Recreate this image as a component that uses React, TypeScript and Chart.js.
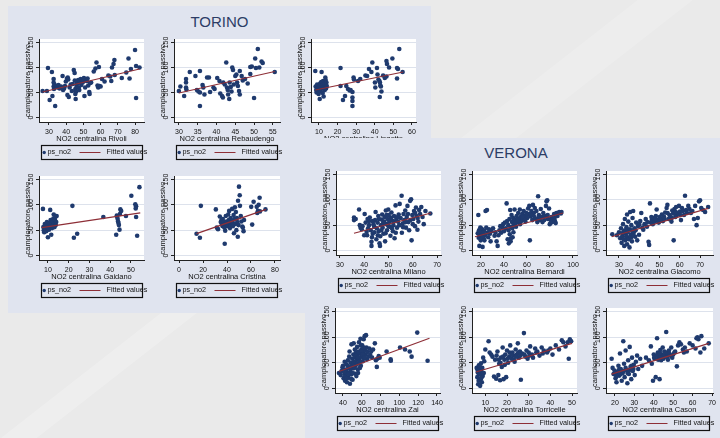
import React, { useEffect, useRef } from 'react';
import { Chart, registerables } from 'chart.js';

Chart.register(...registerables);

// ---------------- DATA ----------------
const cityTitles = ['TORINO', 'VERONA'];
const stations = ['Rivoli', 'Rebaudengo', 'Lingotto', 'Gaidano', 'Cristina', 'Milano', 'Bernardi', 'Giacomo', 'Zai', 'Torricelle', 'Cason'];
const yAxisTitle = 'campionatore passivo';
const xAxisPrefix = 'NO2 centralina ';
const seriesLabels = ['ps_no2', 'Fitted values'];
const yTickStep = 50;
const yRange = [-9, 157];
const xTickSteps = [10, 5, 10, 10, 20, 10, 20, 10, 20, 10, 10];
const xRanges = [
  [24.2, 85.2], [28.7, 56.9], [5.7, 62.2], [5.7, 56.3], [-4.2, 84.2],
  [28.4, 71.6], [12.2, 103.5], [23.6, 76.4], [31.5, 143.2], [3.85, 52.3], [15.4, 70.5],
];

const rivoliPoints = [
  [26.3, 53], [28.8, 53], [29.4, 99], [30.4, 35], [31.7, 91], [32, 43], [32.7, 77], [32.7, 70], [32.7, 62], [32.9, 57], [33.6, 23], [33.2, 66], [34.5, 63], [35, 60], [35.5, 65], [36.2, 58], [37, 62], [37.9, 83], [38.2, 55], [38.8, 58], [39.3, 63], [39.8, 72], [40.5, 78], [40.9, 80], [41.2, 76], [40.7, 45], [41.5, 41], [42, 60], [42.6, 66], [43.3, 53], [43.8, 67], [44.4, 95], [44.9, 89], [45, 74], [45.3, 57], [45.3, 47], [45.5, 37], [45.8, 52], [46, 63], [46.2, 70], [46.5, 72], [46.8, 68], [47, 75], [47.3, 60], [47.6, 55], [48, 71], [48.4, 77], [48.8, 65], [49.2, 74], [49.5, 70], [49.9, 72], [50.3, 79], [50.6, 43], [51, 60], [51.3, 74], [52, 73], [52.4, 78], [52.8, 64], [53.4, 51], [53.6, 47], [53.9, 69], [54.5, 70], [56, 92], [57, 98], [57.6, 110], [58.2, 64], [58.6, 60], [59, 101], [59.4, 63], [60, 62], [60.8, 77], [62.3, 72], [64.5, 84], [65.6, 82], [66.2, 73], [66.6, 100], [67.5, 107], [68, 115], [68.2, 85], [72.3, 79], [74.9, 90], [76.2, 118], [76.8, 78], [77.6, 97], [80, 135], [80.6, 103], [80.6, 39], [82.6, 100],
];
const rivoliFit = [[26.3, 51], [82.6, 97]];

const rebaudengoPoints = [
  [30, 53], [30.4, 62], [31.4, 43], [31.9, 77], [31.9, 70], [31.9, 60], [32, 56], [32.9, 91], [34.4, 83], [34.8, 55], [35.2, 52], [35.6, 50], [35.6, 93], [35.6, 23], [36.3, 65], [36.5, 60], [36.8, 46], [37.5, 80], [38, 80], [38.3, 51], [39.2, 60], [39.5, 57], [40.2, 79], [40.8, 73], [41, 48], [41.5, 43], [41.7, 40], [41.8, 70], [42.2, 66], [42.6, 110], [42.8, 60], [43, 55], [43.1, 46], [43.4, 37], [43.5, 70], [43.8, 61], [44, 52], [44.2, 100], [44.4, 95], [44.6, 66], [45, 83], [45.3, 86], [45.5, 70], [45.7, 63], [46, 53], [46.2, 46], [46.2, 93], [46.7, 83], [47, 74], [47.6, 77], [48.3, 68], [49, 101], [49.4, 102], [49, 87], [50, 39], [50.3, 118], [50.5, 99], [51, 137], [51.4, 100], [52, 112], [52.3, 109], [55.5, 91],
];
const rebaudengoFit = [[30, 49], [55.5, 92]];

const lingottoPoints = [
  [8, 93], [8.2, 62], [8.5, 55], [8.7, 50], [9, 66], [9.3, 58], [9.5, 53], [9.8, 47], [10, 60], [10.2, 63], [10.4, 37], [10.6, 68], [10.8, 56], [11, 52], [11.2, 71], [11.4, 91], [11.5, 59], [11.8, 64], [12, 49], [12.2, 73], [12.5, 42], [12.6, 61], [12.9, 67], [13.1, 55], [13.4, 80], [13.6, 75], [13.8, 58], [14, 70], [14.2, 63],
  [21.6, 99], [21.6, 63], [22.9, 35], [24, 43], [24.7, 63], [25.6, 57], [26.5, 54], [27, 55], [28, 51], [28, 40], [28, 33], [28, 23], [28.6, 80], [28.8, 76], [31, 73], [32.2, 77], [35, 84], [35.9, 83], [36.9, 97], [38.2, 91], [38.7, 110], [40.1, 70], [40.3, 60], [41.2, 99], [41.5, 86], [42, 76], [42.5, 73], [42.8, 70], [43, 64], [43.3, 62], [42.7, 41], [43.6, 52], [44.5, 84], [45.4, 79], [46.3, 82], [46.3, 113], [46.6, 107], [47.7, 100], [49.5, 118], [52, 99], [52.5, 97], [52, 78], [52, 39], [53.2, 137], [55, 91],
];
const lingottoFit = [[8, 55], [55.3, 91]];

const gaidanoPoints = [
  [7.6, 92], [7.8, 56], [8, 50], [8.2, 46], [8.5, 62], [8.8, 53], [9, 58], [9.2, 48], [9.5, 66], [9.8, 55], [10, 36], [10.2, 60], [10.5, 51], [10.7, 64], [11, 57], [11.1, 90], [11.3, 70], [11.6, 41], [11.8, 62], [12, 54], [12.2, 68], [12.4, 59], [12.6, 73], [12.8, 81], [13, 63], [13.2, 56], [13.4, 70], [13.6, 76], [13.8, 60], [14, 66], [14.2, 78],
  [21.8, 98], [22.5, 35], [24.1, 43], [36.7, 76], [42.9, 41], [43.2, 79], [43.4, 76], [43.6, 72], [43.8, 67], [44, 64], [44.2, 60], [44.5, 51], [44.7, 82], [44.9, 91], [45.3, 88], [47.6, 78], [50.2, 118], [52.1, 101], [52.5, 97], [52.3, 93], [52.5, 76], [53, 39], [54.1, 135],
];
const gaidanoFit = [[7, 55], [54.5, 84]];

const cristinaPoints = [
  [14.6, 43], [17.4, 35], [18.2, 98], [30.7, 91], [31.5, 55], [32.5, 52], [34, 77], [34.8, 66], [35.4, 70], [35.6, 62], [36.2, 58], [36.5, 72], [37, 66], [37.5, 60], [37.8, 55], [38.1, 23], [38.5, 49], [39, 78], [39.5, 67], [40, 62], [40.3, 58], [41, 81], [41.5, 70], [41.8, 88], [42, 64], [42.5, 54], [43, 74], [43.5, 60], [44, 69], [44.3, 92], [44.8, 65], [45, 58], [45.5, 80], [45.8, 44], [46.2, 72], [46.6, 95], [47, 62], [47.4, 86], [47.8, 50], [48.2, 74], [48.6, 66], [49, 37], [49.2, 108], [49.6, 60], [50, 136], [50.6, 119], [50.8, 98], [51.5, 78], [52, 67], [52.8, 57], [53.2, 55], [53.8, 48], [54.2, 70], [60.2, 96], [61, 61], [62.2, 106], [64.8, 96], [65.2, 84], [65.8, 88], [66.4, 100], [67.2, 114], [67.5, 87], [72.1, 91],
];
const cristinaFit = [[14.6, 43], [72.6, 91]];

const milanoPoints = [
  [35.8, 60], [35.8, 65], [36.5, 62], [37.9, 81], [38.2, 50], [38.5, 45], [39, 42], [39.3, 48], [40.2, 72], [40.6, 55], [41, 37], [41.2, 30], [41.6, 44], [42, 50], [42, 58], [42.3, 65], [42.7, 40], [43, 9], [43, 17], [43.2, 26], [43.5, 33], [43.8, 52], [44.1, 47], [44.5, 60], [44.7, 76], [45, 22], [45.2, 44], [45.5, 55], [45.8, 68], [46, 38], [46.3, 14], [46.5, 9], [46.6, 28], [46.9, 50], [47.2, 61], [47.4, 71], [47.6, 45], [47.9, 33], [48.2, 57], [48.4, 66], [48.6, 18], [48.9, 79], [49.1, 52], [49.4, 40], [49.6, 62], [49.9, 81], [50.1, 70], [50.3, 56], [50.5, 47], [50.8, 29], [51, 65], [51.2, 75], [51.5, 59], [51.8, 38], [52, 50], [52.3, 68], [52.5, 24], [52.9, 89], [53.2, 62], [53.5, 45], [53.9, 57], [54.2, 71], [54.6, 92], [55, 64], [55.4, 108], [55.5, 35], [55.8, 53], [56.2, 72], [56.5, 60], [56.9, 79], [57.2, 45], [57.5, 66], [57.8, 88], [58.2, 56], [58.5, 40], [58.9, 98], [59.3, 101], [59.5, 20], [59.8, 70], [60.2, 62], [60.5, 78], [60.9, 48], [61.3, 85], [61.5, 68], [61.9, 41], [62.3, 57], [62.6, 80], [63, 72], [63.5, 86], [64, 66], [64.5, 52], [65.2, 78], [67.2, 73],
  [40, 30], [41.4, 62], [43.4, 58], [44.2, 36], [45.6, 30], [46.1, 62], [47, 40], [47.8, 54], [48.8, 34], [49.2, 70], [50, 48], [50.7, 60], [51.4, 44], [52.2, 57], [53, 35], [53.8, 66], [54.4, 50], [56, 46], [57, 56], [58, 72], [59, 60], [60, 52], [61, 74], [62, 64],
];
const milanoFit = [[35.8, 34], [67.5, 74]];

const bernardiPoints = [
  [17.2, 34], [17.7, 70], [18, 25], [18.3, 40], [18.6, 9], [19, 30], [19.4, 45], [19.8, 20], [20.2, 36], [20.6, 28], [21, 42], [21.4, 7], [21.8, 33], [22.3, 24], [22.8, 39], [23.5, 30], [24, 78], [24.6, 45], [25.2, 80], [25.6, 35], [26.3, 26], [27, 42], [27.8, 33], [28.4, 18], [29, 38], [30.5, 44], [31.8, 29], [32.5, 36], [33.6, 18], [34.5, 9], [35.2, 30], [36, 40], [36.8, 48], [37.5, 35], [38.5, 46], [39.3, 52], [40, 38], [40.8, 55], [41.5, 44], [42.3, 93], [42.8, 58], [43.2, 22], [43.7, 50], [44.2, 14], [44.8, 62], [45.4, 80], [45.8, 18], [46.2, 46], [46.6, 70], [47, 56], [47.5, 26], [48, 64], [48.6, 52], [49.2, 81], [49.8, 60], [50.5, 47], [51, 68], [51.8, 56], [52.4, 74], [53, 62], [53.8, 81], [54.4, 66], [55, 58], [55.8, 72], [56.5, 62], [57.2, 78], [58, 68], [58.6, 57], [59.4, 74], [60.2, 64], [61, 83], [61.6, 72], [62, 88], [62.5, 20], [63, 67], [63.8, 78], [64.6, 60], [65.2, 90], [66, 74], [66.8, 84], [67.5, 62], [68.2, 78], [69, 56], [69.7, 107], [70.4, 70], [71.2, 60], [72, 82], [72.8, 66], [73.5, 56], [74.2, 74], [75, 60], [75.8, 68], [76.5, 88], [77, 97], [77.6, 99], [78.2, 62], [79.2, 83], [79.8, 52], [80.5, 60], [81.2, 66], [82, 56], [82.8, 62], [83.6, 72], [84.3, 58], [85, 54], [85.6, 74], [86.5, 68], [88, 76], [89.5, 73], [90, 76],
  [18.8, 38], [20, 44], [21.2, 26], [22, 35], [23, 20], [44, 40], [45, 32], [46, 24], [47.2, 44], [48.2, 36], [49, 58], [50, 54], [52, 60], [54, 52], [56, 66], [58.2, 60], [60, 72], [64, 70], [66.5, 66], [70, 64], [74, 66], [78, 70], [84, 64],
];
const bernardiFit = [[14.8, 27], [91.4, 74]];

const giacomoPoints = [
  [26.7, 32], [29, 30], [30, 36], [30.6, 24], [31, 44], [31.3, 15], [31.6, 28], [32, 52], [32.3, 38], [32.6, 9], [32.9, 62], [33.1, 20], [33.4, 33], [33.7, 46], [34, 71], [34, 12], [34.3, 26], [34.6, 57], [34.9, 40], [35.2, 6], [35.5, 76], [35.8, 31], [36.1, 50], [36.4, 18], [36.7, 64], [37, 78], [37.3, 36], [37.6, 44], [38, 27], [38.5, 55], [39, 20], [39.4, 48], [39.9, 31], [40.5, 58], [41, 74], [41.5, 45], [42, 41], [42.6, 52], [43.2, 62], [43.8, 47], [44.6, 17], [44.9, 11], [45.3, 93], [45.7, 55], [46.2, 60], [46.7, 52], [47.2, 64], [47.7, 57], [48.2, 68], [48.6, 81], [49.1, 60], [49.6, 55], [50.1, 66], [50.7, 62], [51.2, 71], [51.7, 58], [52.2, 67], [52.8, 75], [53.5, 84], [53.9, 90], [54.4, 62], [54.9, 70], [55.4, 66], [55.9, 57], [56.3, 79], [56.7, 73], [57, 20], [57.4, 82], [57.8, 66], [58.2, 86], [58.6, 70], [59.1, 74], [59.6, 88], [60.1, 77], [60.6, 60], [61.1, 84], [61.6, 78], [62.1, 70], [62.6, 108], [63.1, 80], [63.6, 74], [64.2, 88], [64.8, 82], [65.5, 74], [66.2, 78], [67, 62], [67.6, 88], [68.3, 50], [68.9, 64], [69.5, 97], [70, 99], [70.6, 84], [71.5, 80], [72.5, 76], [74, 86],
  [31.8, 34], [32.4, 22], [33, 40], [33.6, 28], [34.2, 36], [34.8, 22], [35.4, 42], [36, 26], [36.6, 38], [37.2, 30], [38.2, 40], [40, 52], [44, 56], [46, 66], [48, 62], [50.4, 58], [52.5, 62], [54, 74], [56, 64], [58, 76], [60.3, 70],
];
const giacomoFit = [[26.4, 27], [74, 83]];

const zaiPoints = [
  [35.7, 30], [37.5, 26], [38.5, 34], [39.4, 41], [40, 44], [40.6, 20], [41, 36], [41.5, 28], [41.8, 52], [42.2, 15], [42.8, 24], [43.3, 37], [43.7, 47], [44.2, 12], [44.7, 31], [45.2, 55], [45.7, 21], [46.1, 40], [46.6, 62], [47, 72], [47.4, 9], [47.8, 33], [48.2, 50], [48.6, 27], [49, 86], [49.4, 45], [49.8, 58], [50.2, 17], [50.6, 39], [51, 66], [51.4, 88], [51.8, 52], [52.2, 29], [52.6, 76], [53, 61], [53.4, 44], [53.8, 70], [54.2, 24], [54.6, 56], [55, 81], [55.4, 64], [55.8, 37], [56.2, 72], [56.6, 49], [57, 90], [57.5, 58], [58, 68], [58.6, 97], [59, 44], [59.5, 76], [60, 62], [60.5, 84], [61, 53], [61.5, 70], [62, 96], [62.5, 59], [63, 102], [63.5, 74], [64, 66], [64.5, 104], [65, 80], [65.6, 57], [66.2, 71], [67, 62], [68, 78], [69, 65], [70, 72], [71, 60], [72, 76], [73.9, 88], [75, 55], [76, 42], [76.5, 58], [78, 63], [79, 60], [86.4, 72], [90.7, 57], [90.9, 54], [100.7, 80], [106, 76], [111, 72], [113, 62], [119, 109], [130, 54],
  [42, 32], [44, 20], [45, 44], [46, 28], [48, 40], [49, 18], [50, 30], [51, 46], [52, 40], [53, 52], [54, 64], [55, 48], [56, 60], [57, 70], [58, 52], [59, 84], [60, 74], [61, 66], [62, 80], [63, 60], [56, 30], [58, 40],
];
const zaiFit = [[35.7, 33], [132, 98]];

const torricellePoints = [
  [6, 40], [6.3, 22], [6.5, 31], [6.7, 8], [6.9, 15], [7, 45], [7.2, 36], [7.4, 27], [7.6, 5], [7.8, 18], [8, 49], [8.2, 33], [8.4, 12], [8.6, 40], [8.8, 24], [9, 60], [9.3, 30], [9.5, 53], [10, 76], [11.5, 92], [12, 70], [12.7, 66], [13.3, 62], [14, 23], [14.5, 56], [15, 19], [15.6, 72], [16, 26], [16.4, 48], [16.8, 16], [17.2, 60], [17.6, 42], [18, 80], [18.4, 18], [18.8, 56], [19.2, 66], [19.6, 22], [20, 74], [20.5, 50], [21, 62], [21.5, 84], [22, 58], [22.5, 70], [23, 64], [23.5, 52], [24, 76], [24.5, 66], [25, 88], [25.5, 60], [26, 72], [26.4, 17], [27, 68], [27.8, 108], [28.5, 62], [29, 74], [29.5, 58], [30, 70], [30.7, 82], [31.5, 66], [32, 60], [33, 78], [34, 72], [35, 64], [36, 80], [37, 74], [38.5, 70], [40, 78], [41, 66], [42.5, 84], [44, 76], [45.3, 94], [46, 90], [47, 82], [48, 90], [48.5, 58], [49, 96], [49.6, 92],
  [6.4, 36], [7.1, 28], [7.5, 42], [8.1, 20], [8.7, 30], [15.2, 64], [16.2, 56], [17, 50], [18.2, 62], [19, 46], [20.2, 58], [21.2, 70], [22.2, 66], [23.2, 56], [24.2, 62], [25.2, 70], [26.2, 64], [28, 66], [30.4, 64], [33.5, 70], [36.5, 68], [39, 74],
];
const torricelleFit = [[5.7, 32], [50, 88]];

const casonPoints = [
  [18.3, 58], [18.8, 40], [19.3, 28], [19.8, 35], [20.3, 20], [20.8, 12], [21.3, 32], [21.8, 44], [22.3, 25], [22.6, 68], [23, 38], [23.5, 15], [24, 30], [24.3, 92], [24.7, 48], [25, 22], [25.5, 74], [26, 36], [26.4, 10], [26.8, 55], [27.2, 28], [27.6, 81], [28, 42], [28.4, 18], [28.8, 60], [29.2, 34], [29.7, 46], [30.2, 26], [30.8, 52], [31.4, 64], [32, 38], [33, 58], [34, 44], [36, 60], [37.5, 55], [38.5, 82], [39, 48], [39.6, 15], [40, 66], [40.5, 58], [41, 22], [41.7, 98], [42.1, 70], [42.6, 62], [43, 18], [43.4, 75], [43.8, 55], [44.2, 66], [44.6, 80], [45, 58], [45.5, 72], [46, 62], [46.4, 110], [46.8, 68], [47.3, 56], [47.8, 74], [48.5, 64], [49, 80], [50, 66], [50.6, 70], [51.9, 43], [52.5, 84], [53.2, 90], [54, 86], [55, 76], [56, 80], [57, 72], [58.5, 88], [60, 84], [61.5, 78], [62, 98], [62.5, 100], [63, 96], [64, 70], [64.5, 102], [66, 78], [68.3, 88],
  [20, 30], [21, 24], [22, 36], [23, 28], [24.5, 34], [25.5, 40], [26.5, 30], [27.5, 36], [28.5, 44], [29.5, 38], [40.2, 60], [41.3, 64], [42.3, 56], [43.2, 68], [44.4, 60], [45.2, 64], [46.2, 70], [47, 62], [48, 68], [49.5, 60], [51, 72], [55.5, 70],
];
const casonFit = [[18.3, 28], [68.3, 88]];

const pointSets = [rivoliPoints, rebaudengoPoints, lingottoPoints, gaidanoPoints, cristinaPoints, milanoPoints, bernardiPoints, giacomoPoints, zaiPoints, torricellePoints, casonPoints];
const fitSets = [rivoliFit, rebaudengoFit, lingottoFit, gaidanoFit, cristinaFit, milanoFit, bernardiFit, giacomoFit, zaiFit, torricelleFit, casonFit];

// ---------------- LAYOUT / STYLE ----------------
// plot area (white plot region) of each panel: left, top, width, height, layer
const plotBoxes = [
  [39, 39, 105, 83, 1], [174, 39, 106, 83, 1], [311, 39, 105, 83, 1],
  [39, 176, 105, 84, 1], [174, 176, 106, 84, 1],
  [336, 171, 105, 84, 3], [472, 171, 105, 84, 3], [606, 171, 107, 84, 3],
  [335, 308, 105, 85, 3], [472, 308, 105, 85, 3], [606, 308, 107, 85, 3],
];

const FONT = '"Liberation Sans", Arial, Helvetica, sans-serif';
const NAVY = '#1f3a6e';
const MAROON = '#8e2f37';
const PANEL_BG = '#e0e4ef';
const PAGE_BG = '#eaeaea';
const TITLE_COLOR = '#2c3d66';
const AXIS = '#222';
const Y_AXIS_W = 32;
const PAD_TOP = 8;
const PAD_RIGHT = 10;
const X_AXIS_H = 40;

const stataPlugin = {
  id: 'stataLook',
  beforeDraw(chart: any) {
    const { ctx, chartArea: a } = chart;
    ctx.save();
    ctx.fillStyle = '#ffffff';
    ctx.fillRect(a.left, a.top, a.right - a.left, a.bottom - a.top);
    ctx.restore();
  },
  afterDraw(chart: any) {
    const { ctx, chartArea: a } = chart;
    const L = Math.round(a.left) + 2;
    const T = Math.round(a.bottom) + 23;
    const W = 101;
    const H = 14;
    ctx.save();
    ctx.strokeStyle = '#111';
    ctx.lineWidth = 1.2;
    ctx.strokeRect(L + 0.5, T + 0.5, W, H);
    const cy = T + H / 2 + 0.5;
    ctx.fillStyle = NAVY;
    ctx.beginPath();
    ctx.arc(L + 3.2, cy, 1.7, 0, Math.PI * 2);
    ctx.fill();
    ctx.font = `7.2px ${FONT}`;
    ctx.fillStyle = '#111';
    ctx.textBaseline = 'middle';
    ctx.textAlign = 'left';
    ctx.fillText(chart.data.datasets[1].label, L + 6.5, cy);
    ctx.strokeStyle = MAROON;
    ctx.lineWidth = 1;
    ctx.beginPath();
    ctx.moveTo(L + 38.5, cy);
    ctx.lineTo(L + 59.5, cy);
    ctx.stroke();
    ctx.fillText(chart.data.datasets[0].label, L + 65.5, cy);
    ctx.restore();
  },
};

function Panel({ idx }: { idx: number }) {
  const ref = useRef<HTMLCanvasElement>(null);
  const [left, top, w, h, z] = plotBoxes[idx];
  const cw = w + Y_AXIS_W + PAD_RIGHT;
  const ch = h + PAD_TOP + X_AXIS_H;

  useEffect(() => {
    const canvas = ref.current;
    if (!canvas) return;
    const chart = new Chart(canvas, {
      type: 'scatter',
      data: {
        datasets: [
          {
            type: 'line',
            label: seriesLabels[1],
            data: fitSets[idx].map(([x, y]) => ({ x, y })),
            borderColor: MAROON,
            borderWidth: 1.2,
            pointRadius: 0,
            fill: false,
            showLine: true,
          } as any,
          {
            type: 'scatter',
            label: seriesLabels[0],
            data: pointSets[idx].map(([x, y]) => ({ x, y })),
            pointRadius: 2.3,
            pointBackgroundColor: NAVY,
            pointBorderColor: NAVY,
            pointBorderWidth: 0,
            backgroundColor: NAVY,
            borderColor: NAVY,
          },
        ],
      },
      options: {
        animation: false,
        responsive: false,
        events: [],
        layout: { padding: { left: 0, top: PAD_TOP, right: PAD_RIGHT, bottom: 0 } },
        plugins: { legend: { display: false }, tooltip: { enabled: false } },
        scales: {
          x: {
            type: 'linear',
            position: 'bottom',
            min: xRanges[idx][0],
            max: xRanges[idx][1],
            ticks: {
              stepSize: xTickSteps[idx],
              includeBounds: false,
              autoSkip: false,
              maxRotation: 0,
              padding: 3,
              color: '#111',
              font: { family: FONT, size: 7 },
            },
            grid: { display: true, drawOnChartArea: false, drawTicks: true, tickLength: 3, tickColor: AXIS, tickWidth: 1 },
            border: { display: true, color: AXIS, width: 1 },
            title: {
              display: true,
              text: xAxisPrefix + stations[idx],
              color: '#111',
              font: { family: FONT, size: 7.5 },
              padding: { top: 0, bottom: 19 },
            },
            afterFit: (s: any) => { s.height = X_AXIS_H; },
          },
          y: {
            type: 'linear',
            position: 'left',
            min: yRange[0],
            max: yRange[1],
            ticks: {
              stepSize: yTickStep,
              includeBounds: false,
              autoSkip: false,
              minRotation: 90,
              maxRotation: 90,
              crossAlign: 'center',
              padding: -1,
              color: '#111',
              font: { family: FONT, size: 7 },
            },
            grid: { color: '#dde2ec', lineWidth: 1, drawTicks: true, tickLength: 3, tickColor: AXIS, tickWidth: 1 },
            border: { display: true, color: AXIS, width: 1 },
            title: {
              display: true,
              text: yAxisTitle,
              color: '#111',
              font: { family: FONT, size: 7.5 },
              padding: { top: 16, bottom: 0 },
            },
            afterFit: (s: any) => { s.width = Y_AXIS_W; },
          },
        },
      } as any,
      plugins: [stataPlugin],
    });
    return () => chart.destroy();
  }, [idx]);

  return (
    <canvas
      ref={ref}
      width={cw}
      height={ch}
      style={{ position: 'absolute', left: left - Y_AXIS_W, top: top - PAD_TOP, width: cw, height: ch, zIndex: z }}
    />
  );
}

export default function App() {
  return (
    <div
      style={{
        position: 'fixed',
        left: 0,
        top: 0,
        width: 720,
        height: 438,
        overflow: 'hidden',
        background: PAGE_BG,
        fontFamily: FONT,
      }}
    >
      {/* faint diagonal light bands of the slide background */}
      <div style={{ position: 'absolute', left: -40, top: 470, width: 420, height: 22, background: 'rgba(255,255,255,0.22)', transform: 'rotate(-38deg)', transformOrigin: '0 0' }} />
      <div style={{ position: 'absolute', left: 420, top: 170, width: 420, height: 34, background: 'rgba(255,255,255,0.16)', transform: 'rotate(-38deg)', transformOrigin: '0 0' }} />

      {/* TORINO panel */}
      <div style={{ position: 'absolute', left: 8, top: 6, width: 423, height: 307, background: PANEL_BG, zIndex: 0 }} />
      <div style={{ position: 'absolute', left: 8, top: 14, width: 423, textAlign: 'center', fontSize: 15, lineHeight: '15px', color: TITLE_COLOR, zIndex: 1 }}>
        {cityTitles[0]}
      </div>

      {/* VERONA panel (overlaps TORINO) */}
      <div style={{ position: 'absolute', left: 305, top: 138, width: 422, height: 300, background: PANEL_BG, zIndex: 2 }} />
      <div style={{ position: 'absolute', left: 305, top: 145, width: 422, textAlign: 'center', fontSize: 15, lineHeight: '15px', color: TITLE_COLOR, zIndex: 3 }}>
        {cityTitles[1]}
      </div>

      {stations.map((_, i) => (
        <Panel key={i} idx={i} />
      ))}
    </div>
  );
}
